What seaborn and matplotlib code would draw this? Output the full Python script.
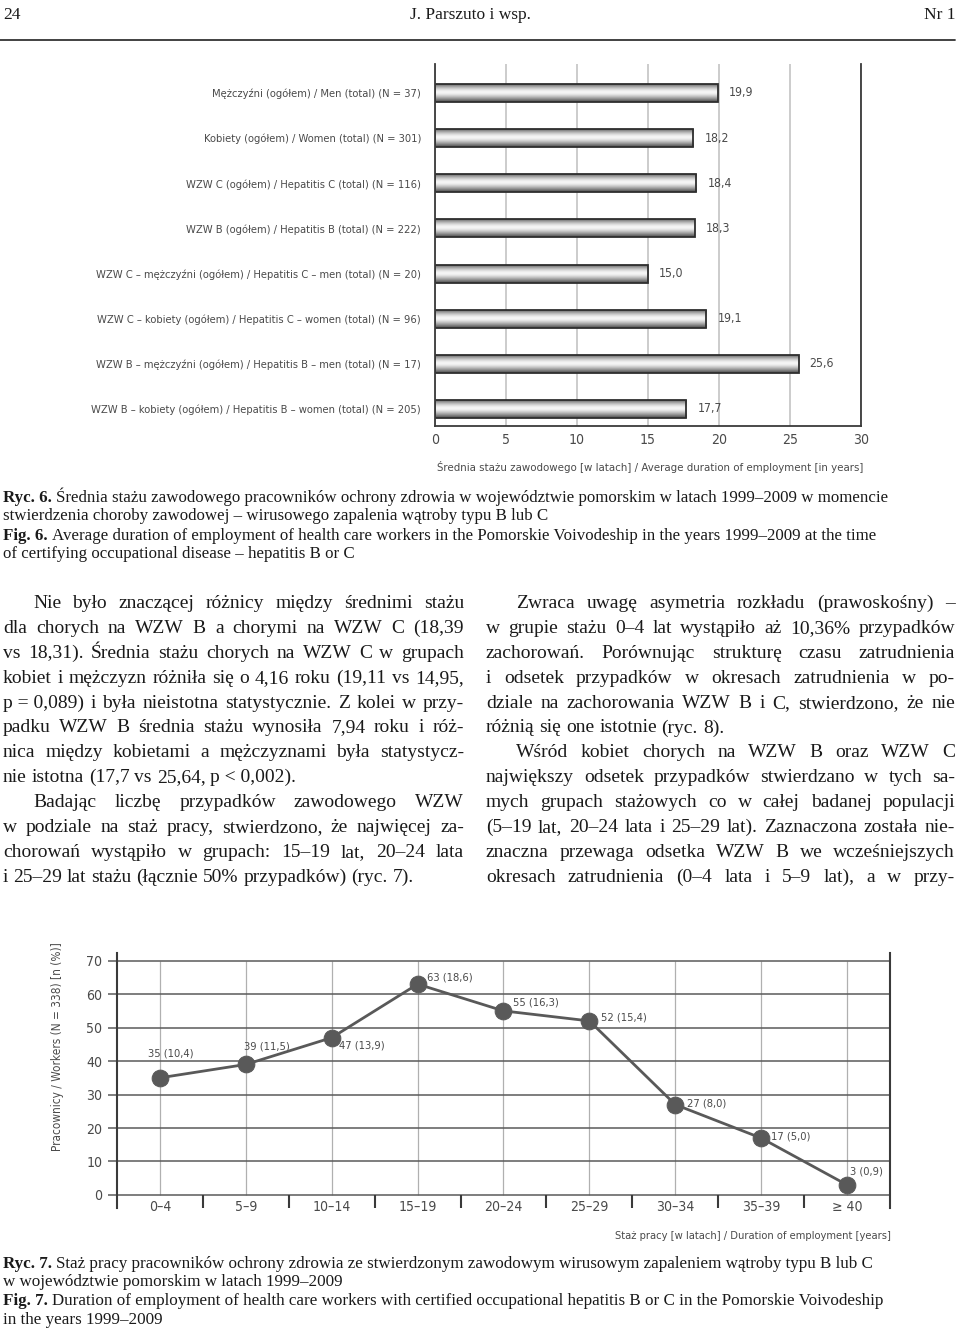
import numpy as np
import pandas as pd
import matplotlib
matplotlib.use("Agg")
import matplotlib.pyplot as plt
import matplotlib.font_manager as fm
from matplotlib.font_manager import FontProperties
import seaborn as sns

# ---------------- data ----------------
bar_labels = [
    "Mężczyźni (ogółem) / Men (total) (N = 37)",
    "Kobiety (ogółem) / Women (total) (N = 301)",
    "WZW C (ogółem) / Hepatitis C (total) (N = 116)",
    "WZW B (ogółem) / Hepatitis B (total) (N = 222)",
    "WZW C – mężczyźni (ogółem) / Hepatitis C – men (total) (N = 20)",
    "WZW C – kobiety (ogółem) / Hepatitis C – women (total) (N = 96)",
    "WZW B – mężczyźni (ogółem) / Hepatitis B – men (total) (N = 17)",
    "WZW B – kobiety (ogółem) / Hepatitis B – women (total) (N = 205)",
]
bar_values = [19.9, 18.2, 18.4, 18.3, 15.0, 19.1, 25.6, 17.7]
bar_ticks = [0, 5, 10, 15, 20, 25, 30]
bar_xlabel = "Średnia stażu zawodowego [w latach] / Average duration of employment [in years]"

stage_labels = ["0–4", "5–9", "10–14", "15–19", "20–24", "25–29", "30–34", "35–39", "≥ 40"]
workers_n = [35, 39, 47, 63, 55, 52, 27, 17, 3]
workers_pct = ["10,4", "11,5", "13,9", "18,6", "16,3", "15,4", "8,0", "5,0", "0,9"]
line_yticks = [0, 10, 20, 30, 40, 50, 60, 70]
line_ylabel = "Pracownicy / Workers (N = 338) [n (%)]"
line_xlabel = "Staż pracy [w latach] / Duration of employment [years]"

# ---------------- setup ----------------
W, H = 960, 1331
sns.set_theme(style="white")
names = {f.name for f in fm.fontManager.ttflist}
if "Liberation Sans Narrow" in names:
    chart_family, chart_stretch = "Liberation Sans Narrow", "normal"
elif any(f.name == "DejaVu Sans" and "condensed" in str(f.stretch) for f in fm.fontManager.ttflist):
    chart_family, chart_stretch = "DejaVu Sans", "condensed"
else:
    chart_family, chart_stretch = "DejaVu Sans", "normal"
plt.rcParams["font.family"] = [chart_family, "DejaVu Sans"]
plt.rcParams["font.stretch"] = chart_stretch

fig = plt.figure(figsize=(W / 100, H / 100), dpi=100)
fig.patch.set_facecolor("white")
renderer = fig.canvas.get_renderer()


def tw(s, fp):
    w, h, d = renderer.get_text_width_height_descent(s, fp, ismath=False)
    return w


def rect(l, t, r, b):
    return [l / W, 1 - b / H, (r - l) / W, (b - t) / H]


def ftext(x, y, s, **kw):
    return fig.text(x / W, 1 - y / H, s, **kw)


CHART_C = "#4a4a4a"
TEXT_C = "#1a1a1a"

# chart font size fit
fp10 = FontProperties(family=[chart_family, "DejaVu Sans"], stretch=chart_stretch, size=10)
longest = max(bar_labels, key=lambda s: tw(s, fp10))
cfs = 10 * min(1.0, 334 / tw(longest, fp10))

# ---------------- bar chart ----------------
ax1 = fig.add_axes(rect(435, 64, 861, 426))
df_bar = pd.DataFrame({"label": bar_labels, "value": bar_values})
sns.barplot(data=df_bar, x="value", y="label", orient="h", width=0.4, color="#999999",
            saturation=1, edgecolor="#2e2e2e", linewidth=1.3, errorbar=None, ax=ax1)
grad = np.array([0.30, 0.52, 0.66, 0.78, 0.88, 0.95, 0.97, 0.92, 0.83, 0.72, 0.60, 0.47, 0.34]).reshape(-1, 1)
for p in list(ax1.patches):
    x, y, w, h = p.get_x(), p.get_y(), p.get_width(), p.get_height()
    im = ax1.imshow(grad, cmap="gray", vmin=0, vmax=1, extent=(x, x + w, y + h, y),
                    aspect="auto", interpolation="bicubic", zorder=1.5)
    im.set_clip_path(p)
    p.set_facecolor("none")
    p.set_zorder(2)
ax1.set_aspect("auto")
ax1.set_xlim(0, 30)
ax1.set_ylim(7.377, -0.642)
ax1.set_xticks(bar_ticks)
ax1.set_axisbelow(True)
ax1.xaxis.grid(True, color="#c4c4c4", lw=1.2)
ax1.yaxis.grid(False)
for s in ["left", "right", "bottom"]:
    ax1.spines[s].set_visible(True)
    ax1.spines[s].set_color("#3a3a3a")
    ax1.spines[s].set_linewidth(1.3)
ax1.spines["top"].set_visible(False)
ax1.set_xlabel("")
ax1.set_ylabel("")
ax1.tick_params(axis="y", length=0, pad=10, labelsize=cfs, labelcolor=CHART_C)
ax1.tick_params(axis="x", length=0, pad=5, labelsize=cfs * 1.25, labelcolor=CHART_C)
ax1.bar_label(ax1.containers[0], labels=[f"{v:.1f}".replace(".", ",") for v in bar_values],
              padding=8, fontsize=cfs * 1.1, color=CHART_C)
ftext(863, 467, bar_xlabel, ha="right", va="center", fontsize=cfs * 1.02, color=CHART_C)

# ---------------- line chart ----------------
ax2 = fig.add_axes(rect(117, 953, 890, 1208))
df_line = pd.DataFrame({"stage": stage_labels, "n": workers_n})
sns.lineplot(data=df_line, x="stage", y="n", sort=False, color="#595959", lw=2,
             marker="o", markersize=12, markeredgecolor="#595959", markerfacecolor="#595959",
             ax=ax2, zorder=5)
pos = np.arange(len(stage_labels))
ax2.set_xlim(-0.5, len(stage_labels) - 0.5)
ax2.set_ylim(-3.9, 72.3)
ax2.set_yticks(line_yticks)
ax2.set_axisbelow(True)
ax2.yaxis.grid(True, color="#5a5a5a", lw=1.1)
ax2.xaxis.grid(False)
ax2.vlines(pos, min(line_yticks), max(line_yticks), color="#b0b0b0", lw=0.9, zorder=0.5)
ax2.vlines(pos[1:] - 0.5, -3.9, 0, color="#3a3a3a", lw=1.5, zorder=1)
for s in ["left", "right"]:
    ax2.spines[s].set_visible(True)
    ax2.spines[s].set_color("#3a3a3a")
    ax2.spines[s].set_linewidth(1.5)
for s in ["top", "bottom"]:
    ax2.spines[s].set_visible(False)
ax2.set_xticks(pos)
ax2.set_xticklabels(stage_labels)
ax2.tick_params(axis="x", length=0, pad=-6, labelsize=cfs * 1.25, labelcolor=CHART_C)
ax2.tick_params(axis="y", left=True, direction="out", length=6.5, width=1.1, color="#5a5a5a",
                pad=4, labelsize=cfs * 1.25, labelcolor=CHART_C)
ax2.set_xlabel("")
ax2.set_ylabel("")
label_offsets = [(11, 24), (21, 18), (30, -8), (32, 7), (32, 8), (34, 3), (31, 1), (30, 2), (19, 13)]
for i, (n, pc) in enumerate(zip(workers_n, workers_pct)):
    ax2.annotate(f"{n} ({pc})", (pos[i], n), xytext=label_offsets[i], textcoords="offset pixels",
                 ha="center", va="center", fontsize=cfs * 1.0, color=CHART_C)
ftext(58, 1047, line_ylabel, rotation=90, ha="center", va="center", fontsize=cfs * 1.05, color=CHART_C)
ftext(891, 1236, line_xlabel, ha="right", va="center", fontsize=cfs, color=CHART_C)

# ---------------- page text ----------------
SERIF = "Liberation Serif"

# header
hfp = FontProperties(family=SERIF, size=12.5)
ftext(3, 19, "24", fontproperties=hfp, ha="left", va="baseline", color=TEXT_C)
ftext(470, 19, "J. Parszuto i wsp.", fontproperties=hfp, ha="center", va="baseline", color=TEXT_C)
ftext(955, 19, "Nr 1", fontproperties=hfp, ha="right", va="baseline", color=TEXT_C)
fig.add_artist(plt.Line2D([0, 955 / W], [1 - 40 / H, 1 - 40 / H], color="#333333", lw=1.3))


def caption_block(lines, baselines, x0, target_w, target_idx):
    b10 = FontProperties(family=SERIF, weight="bold", size=10)
    n10 = FontProperties(family=SERIF, size=10)
    bp, rest = lines[target_idx]
    w10 = tw(bp, b10) + tw("a a", n10) - tw("aa", n10) + tw(rest, n10)
    fs = 10 * target_w / w10
    bfp = FontProperties(family=SERIF, weight="bold", size=fs)
    nfp = FontProperties(family=SERIF, size=fs)
    sp = tw("a a", nfp) - tw("aa", nfp)
    for (bp, rest), yb in zip(lines, baselines):
        x = x0
        if bp:
            ftext(x, yb, bp, fontproperties=bfp, ha="left", va="baseline", color=TEXT_C)
            x += tw(bp, bfp) + sp
        ftext(x, yb, rest, fontproperties=nfp, ha="left", va="baseline", color=TEXT_C)


cap6 = [
    ("Ryc. 6.", "Średnia stażu zawodowego pracowników ochrony zdrowia w województwie pomorskim w latach 1999–2009 w momencie"),
    ("", "stwierdzenia choroby zawodowej – wirusowego zapalenia wątroby typu B lub C"),
    ("Fig. 6.", "Average duration of employment of health care workers in the Pomorskie Voivodeship in the years 1999–2009 at the time"),
    ("", "of certifying occupational disease – hepatitis B or C"),
]
caption_block(cap6, [502, 520, 540, 558], 3, 884, 0)

cap7 = [
    ("Ryc. 7.", "Staż pracy pracowników ochrony zdrowia ze stwierdzonym zawodowym wirusowym zapaleniem wątroby typu B lub C"),
    ("", "w województwie pomorskim w latach 1999–2009"),
    ("Fig. 7.", "Duration of employment of health care workers with certified occupational hepatitis B or C in the Pomorskie Voivodeship"),
    ("", "in the years 1999–2009"),
]
caption_block(cap7, [1268, 1286, 1305, 1324], 3, 882, 2)

# body columns
NB = "\u00a0"
col1 = [
    ("Nie było znaczącej różnicy między średnimi stażu", "first"),
    ("dla chorych na WZW B a chorymi na WZW C (18,39", ""),
    ("vs 18,31). Średnia stażu chorych na WZW C w grupach", ""),
    ("kobiet i mężczyzn różniła się o 4,16 roku (19,11 vs 14,95,", ""),
    (f"p{NB}={NB}0,089) i była nieistotna statystycznie. Z kolei w przy-", ""),
    ("padku WZW B średnia stażu wynosiła 7,94 roku i róż-", ""),
    ("nica między kobietami a mężczyznami była statystycz-", ""),
    (f"nie istotna (17,7 vs 25,64, p{NB}<{NB}0,002).", "last"),
    ("Badając liczbę przypadków zawodowego WZW", "first"),
    ("w podziale na staż pracy, stwierdzono, że najwięcej za-", ""),
    ("chorowań wystąpiło w grupach: 15–19 lat, 20–24 lata", ""),
    ("i 25–29 lat stażu (łącznie 50% przypadków) (ryc. 7).", "last"),
]
col2 = [
    ("Zwraca uwagę asymetria rozkładu (prawoskośny) –", "first"),
    ("w grupie stażu 0–4 lat wystąpiło aż 10,36% przypadków", ""),
    ("zachorowań. Porównując strukturę czasu zatrudnienia", ""),
    ("i odsetek przypadków w okresach zatrudnienia w po-", ""),
    ("dziale na zachorowania WZW B i C, stwierdzono, że nie", ""),
    ("różnią się one istotnie (ryc. 8).", "last"),
    ("Wśród kobiet chorych na WZW B oraz WZW C", "first"),
    ("największy odsetek przypadków stwierdzano w tych sa-", ""),
    ("mych grupach stażowych co w całej badanej populacji", ""),
    ("(5–19 lat, 20–24 lata i 25–29 lat). Zaznaczona została nie-", ""),
    ("znaczna przewaga odsetka WZW B we wcześniejszych", ""),
    ("okresach zatrudnienia (0–4 lata i 5–9 lat), a w przy-", ""),
]
columns = [(col1, 3, 464), (col2, 486, 955)]
INDENT = 30

bf10 = FontProperties(family=SERIF, size=10)
sp10 = tw("a a", bf10) - tw("aa", bf10)
ratios = []
for col, x0, x1 in columns:
    for line, kind in col:
        if kind == "last":
            continue
        words = line.split(" ")
        avail = x1 - x0 - (INDENT if kind == "first" else 0)
        nat = sum(tw(wd, bf10) for wd in words) + (len(words) - 1) * 0.75 * sp10
        ratios.append(avail / nat)
body_fs = min(14.0, 10 * min(ratios))
bfp = FontProperties(family=SERIF, size=body_fs)
bsp = tw("a a", bfp) - tw("aa", bfp)

for col, x0, x1 in columns:
    for k, (line, kind) in enumerate(col):
        yb = 608 + 24.9 * k
        words = line.split(" ")
        widths = [tw(wd, bfp) for wd in words]
        start = x0 + (INDENT if kind == "first" else 0)
        if kind != "last" and len(words) > 1:
            gap = (x1 - start - sum(widths)) / (len(words) - 1)
        else:
            gap = bsp
        x = start
        for wd, wdt in zip(words, widths):
            ftext(x, yb, wd, fontproperties=bfp, ha="left", va="baseline", color=TEXT_C)
            x += wdt + gap

fig.savefig("out.png", dpi=100)
